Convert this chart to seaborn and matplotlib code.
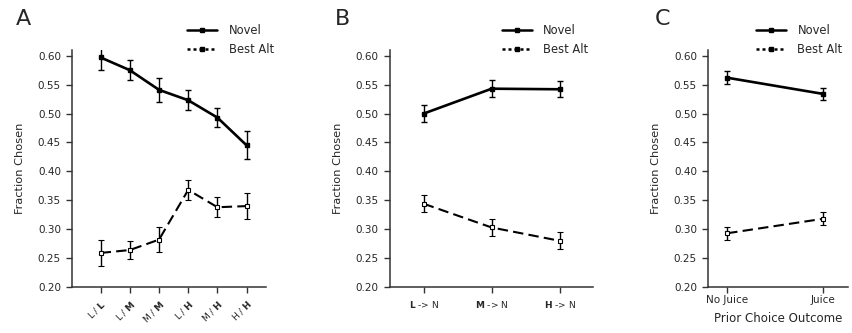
import matplotlib
matplotlib.use("Agg")
import matplotlib.pyplot as plt
import numpy as np
import pandas as pd
import seaborn as sns
from matplotlib.lines import Line2D

# ---- data ----
a_labels = [r"L / $\mathbf{L}$", r"L / $\mathbf{M}$", r"M / $\mathbf{M}$",
            r"L / $\mathbf{H}$", r"M / $\mathbf{H}$", r"H / $\mathbf{H}$"]
a_novel = [0.597, 0.575, 0.541, 0.523, 0.493, 0.445]
a_novel_err = [0.021, 0.017, 0.021, 0.017, 0.017, 0.024]
a_alt = [0.259, 0.264, 0.282, 0.368, 0.338, 0.340]
a_alt_err = [0.022, 0.016, 0.022, 0.017, 0.017, 0.023]

b_labels = [r"$\mathbf{L}$ -> N", r"$\mathbf{M}$ -> N", r"$\mathbf{H}$ -> N"]
b_novel = [0.500, 0.543, 0.542]
b_novel_err = [0.015, 0.015, 0.014]
b_alt = [0.344, 0.303, 0.280]
b_alt_err = [0.015, 0.015, 0.015]

c_labels = ["No Juice", "Juice"]
c_novel = [0.562, 0.534]
c_novel_err = [0.011, 0.010]
c_alt = [0.293, 0.318]
c_alt_err = [0.011, 0.011]

sns.set_style("ticks")
plt.rcParams["font.family"] = ["DejaVu Sans"]

fig = plt.figure(figsize=(8.53, 3.33), dpi=100)
bottom, height = 0.138, 0.712
ax_a = fig.add_axes([0.0844, bottom, 0.227, height])
ax_b = fig.add_axes([0.457, bottom, 0.238, height])
ax_c = fig.add_axes([0.830, bottom, 0.164, height])


def draw_panel(ax, labels, novel, novel_err, alt, alt_err, xlim):
    x = np.arange(len(labels))
    df = pd.DataFrame({"x": np.concatenate([x, x]),
                       "y": novel + alt,
                       "kind": ["Novel"] * len(x) + ["Best Alt"] * len(x)})
    sns.lineplot(data=df, x="x", y="y", style="kind", size="kind", ax=ax,
                 color="black", dashes={"Novel": "", "Best Alt": (5, 2.5)},
                 sizes={"Novel": 1.9, "Best Alt": 1.5}, legend=False, zorder=2)
    ax.errorbar(x, novel, yerr=novel_err, fmt="s", color="black", ms=3.5,
                elinewidth=1, capsize=2, capthick=1, zorder=3)
    ax.errorbar(x, alt, yerr=alt_err, fmt="s", color="black", mfc="white",
                mec="black", ms=3.5, mew=0.8, elinewidth=1, capsize=2,
                capthick=1, zorder=3)
    ax.set_xlim(*xlim)
    ax.set_ylim(0.2, 0.61)
    ax.set_yticks(np.arange(0.20, 0.601, 0.05))
    ax.set_yticklabels([f"{v:.2f}" for v in np.arange(0.20, 0.601, 0.05)],
                       fontsize=7.5)
    ax.set_xticks(x)
    ax.set_ylabel("Fraction Chosen", fontsize=8.2, labelpad=9)
    ax.set_xlabel("")
    sns.despine(ax=ax)
    for s in ["left", "bottom"]:
        ax.spines[s].set_linewidth(1.1)
        ax.spines[s].set_color("#333333")
    ax.tick_params(length=4.5, width=1, color="#333333")


draw_panel(ax_a, a_labels, a_novel, a_novel_err, a_alt, a_alt_err, (-0.98, 5.65))
ax_a.set_xticklabels(a_labels, rotation=45, ha="right", rotation_mode="anchor",
                     fontsize=6.5)

draw_panel(ax_b, b_labels, b_novel, b_novel_err, b_alt, b_alt_err, (-0.5, 2.49))
ax_b.set_xticklabels(b_labels, fontsize=6.5)
ax_b.tick_params(axis="x", pad=4)

draw_panel(ax_c, c_labels, c_novel, c_novel_err, c_alt, c_alt_err, (-0.2, 1.26))
ax_c.set_xticklabels(c_labels, fontsize=7.5)
ax_c.tick_params(axis="x", pad=1.5)
ax_c.set_xlabel("Prior Choice Outcome", fontsize=8.5, labelpad=5)

handles = [Line2D([], [], color="black", lw=1.8, marker="s", ms=3.5),
           Line2D([], [], color="black", lw=1.8, ls=(0, (1.2, 1.2)), marker="s", ms=3.5)]
for ax, xr in [(ax_a, 0.333), (ax_b, 0.702), (ax_c, 1.0)]:
    ax.legend(handles, ["Novel", "Best Alt"], loc="upper right",
              bbox_to_anchor=(xr, 0.96), bbox_transform=fig.transFigure,
              frameon=False, fontsize=8.3, handlelength=2.6,
              handletextpad=1.0, labelspacing=0.55)

for letter, xp in [("A", 0.018), ("B", 0.393), ("C", 0.767)]:
    fig.text(xp, 0.925, letter, fontsize=16)

fig.savefig("out.png", dpi=100)
